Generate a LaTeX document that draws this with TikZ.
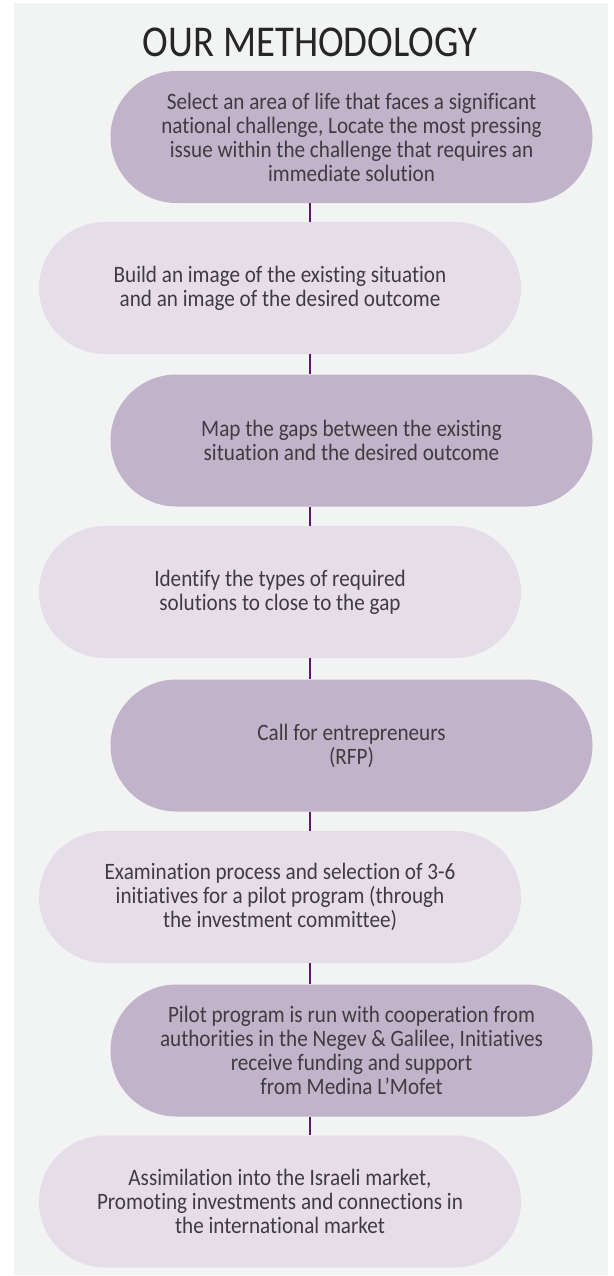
\documentclass[tikz,border=0pt]{standalone}
\usepackage{fontspec}
\setmainfont{Carlito}
\newfontfamily\bodyfont{Carlito}[FakeStretch=0.9,Ligatures=NoCommon]
\newfontfamily\titlefont{Carlito}[FakeStretch=0.88,Ligatures=NoCommon]
\definecolor{bgc}{HTML}{F2F3F3}
\definecolor{darkbox}{HTML}{C1B3C9}
\definecolor{lightbox}{HTML}{E5DEE9}
\definecolor{linec}{HTML}{5A1A66}
\definecolor{txt}{HTML}{403B40}
\definecolor{titlec}{HTML}{262626}
\tikzset{
  pill/.style={rectangle, rounded corners=66pt, minimum width=482pt, minimum height=132pt,
    inner sep=0pt, align=center, text=txt,
    font=\bodyfont\fontsize{23.5}{24}\selectfont},
  darkpill/.style={pill, fill=darkbox},
  lightpill/.style={pill, fill=lightbox},
  link/.style={draw=linec, line width=2pt}
}
\begin{document}
\begin{tikzpicture}[x=1pt,y=-1pt]
\useasboundingbox (0,0) rectangle (613,1276);
\fill[bgc] (14,3) rectangle (608,1275);
\node[anchor=base, text=titlec, font=\titlefont\fontsize{44}{46}\selectfont] (title) at (310,57) {OUR METHODOLOGY};
\coordinate (cx) at (310,0);
\node[darkpill] (b1) at (351.5,137) {Select an area of life that faces a significant\\national challenge, Locate the most pressing\\issue within the challenge that requires an\\immediate solution};
\node[lightpill] (b2) at (280,288) {Build an image of the existing situation\\and an image of the desired outcome};
\node[darkpill] (b3) at (351.5,440.5) {Map the gaps between the existing\\situation and the desired outcome};
\node[lightpill] (b4) at (280,592) {Identify the types of required\\solutions to close to the gap};
\node[darkpill] (b5) at (351.5,745.5) {Call for entrepreneurs\\(RFP)};
\node[lightpill] (b6) at (280,897) {Examination process and selection of 3-6\\initiatives for a pilot program (through\\the investment committee)};
\node[darkpill] (b7) at (351.5,1050.5) {Pilot program is run with cooperation from\\authorities in the Negev \& Galilee, Initiatives\\receive funding and support\\from Medina L’Mofet};
\node[lightpill] (b8) at (280,1201.5) {Assimilation into the Israeli market,\\Promoting investments and connections in\\the international market};
\foreach \a/\b in {b1/b2,b2/b3,b3/b4,b4/b5,b5/b6,b6/b7,b7/b8}
  \draw[link] (\a.south -| cx) -- (\b.north -| cx);
\end{tikzpicture}
\end{document}
